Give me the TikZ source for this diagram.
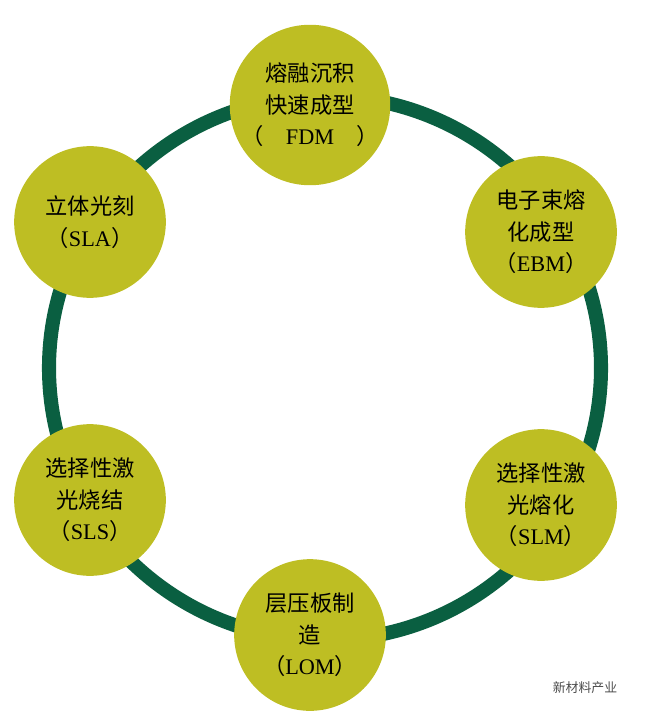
\documentclass[tikz,border=0pt]{standalone}
\usepackage{fontspec}
\setmainfont{Noto Sans CJK SC}
\newfontfamily\latinfont{Liberation Serif}
\definecolor{ringgreen}{RGB}{10,95,65}
\definecolor{ballolive}{RGB}{190,190,35}

\begin{document}
\begin{tikzpicture}[
  x=0.03cm, y=-0.03cm,
  font=\fontsize{19}{27}\selectfont,
  every node/.style={align=center},
  ring/.style={draw=ringgreen, line width=12pt},
  ball/.style={circle, fill=ballolive, minimum size=4.55cm, inner sep=0pt, text=black}]

  \useasboundingbox (0,0) rectangle (652,711);

  % ring behind the balls
  \draw[ring] (325,368) ellipse [x radius=276, y radius=272];

  \node[ball] (fdm) at (310,105) {熔融沉积\\快速成型\\（\hspace{1em}{\latinfont FDM}\hspace{1em}）};
  \node[ball] (ebm) at (541,232) {电子束熔\\化成型\\（{\latinfont EBM}）};
  \node[ball] (slm) at (541,505) {选择性激\\光熔化\\（{\latinfont SLM}）};
  \node[ball] (lom) at (310,635) {层压板制\\造\\（{\latinfont LOM}）};
  \node[ball] (sls) at (90,500) {选择性激\\光烧结\\（{\latinfont SLS}）};
  \node[ball] (sla) at (90,222) {立体光刻\\（{\latinfont SLA}）};

  \node[font=\fontsize{11}{13}\selectfont, text=black!70] (mark) at (585,688) {新材料产业};

\end{tikzpicture}
\end{document}
